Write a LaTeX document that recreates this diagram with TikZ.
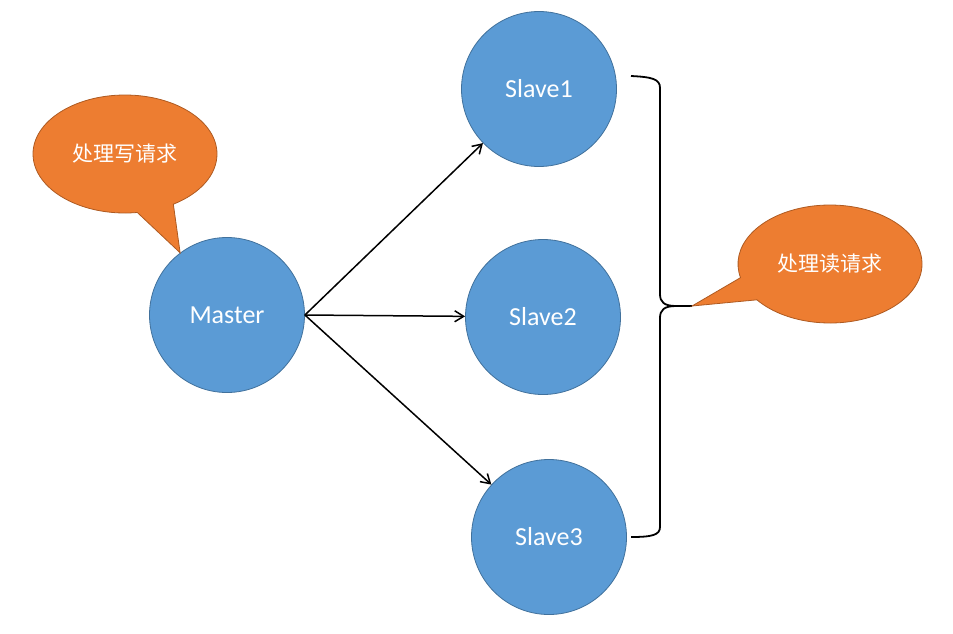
\documentclass[tikz,border=0pt]{standalone}
\usepackage{fontspec}
\setmainfont{Carlito}
\newfontfamily\cjk{Noto Sans CJK SC}
\usetikzlibrary{arrows.meta,shapes.geometric,shapes.callouts}
\begin{document}
\begin{tikzpicture}[x=1pt,y=-1pt,
  server/.style={circle,draw=serverline,fill=serverblue,line width=0.8pt,minimum size=155pt,inner sep=0pt,text=white,font=\fontsize{26}{31}\selectfont},
  talk/.style={ellipse callout,draw=talkline,fill=talkorange,line width=0.8pt,minimum width=184pt,minimum height=118pt,inner sep=0pt,callout pointer arc=24,text=white,font=\cjk\fontsize{21}{25}\selectfont},
  push/.style={-{Straight Barb[length=9pt,width=11pt]},line width=1.5pt}]
\definecolor{serverblue}{HTML}{5B9BD5}
\definecolor{serverline}{HTML}{41719C}
\definecolor{talkorange}{HTML}{ED7D31}
\definecolor{talkline}{HTML}{AE5A21}
\useasboundingbox (0,0) rectangle (953,633);
% servers
\node[server] (master) at (227,315) {Master};
\node[server] (slave1) at (539,89) {Slave1};
\node[server] (slave2) at (543,317) {Slave2};
\node[server] (slave3) at (549,537) {Slave3};
% replication
\draw[push] (master.east) -- (slave1);
\draw[push] (master.east) -- (slave2);
\draw[push] (master.east) -- (slave3);
% read group
\coordinate (bracetip) at (692,306);
\draw[line width=1.8pt] (631,76) .. controls (652,77) and (660,79) .. (660,88) -- (660,294)
  .. controls (660,302) and (664,306) .. (676,306) -- (bracetip)
  (676,306) .. controls (664,306) and (660,310) .. (660,318) -- (660,527)
  .. controls (660,535) and (652,537) .. (631,537);
% callouts
\node[talk,callout absolute pointer={(master.127)}] (write) at (125,154) {处理写请求};
\node[talk,callout absolute pointer={(bracetip)}] (read) at (830,264) {处理读请求};
\end{tikzpicture}
\end{document}
